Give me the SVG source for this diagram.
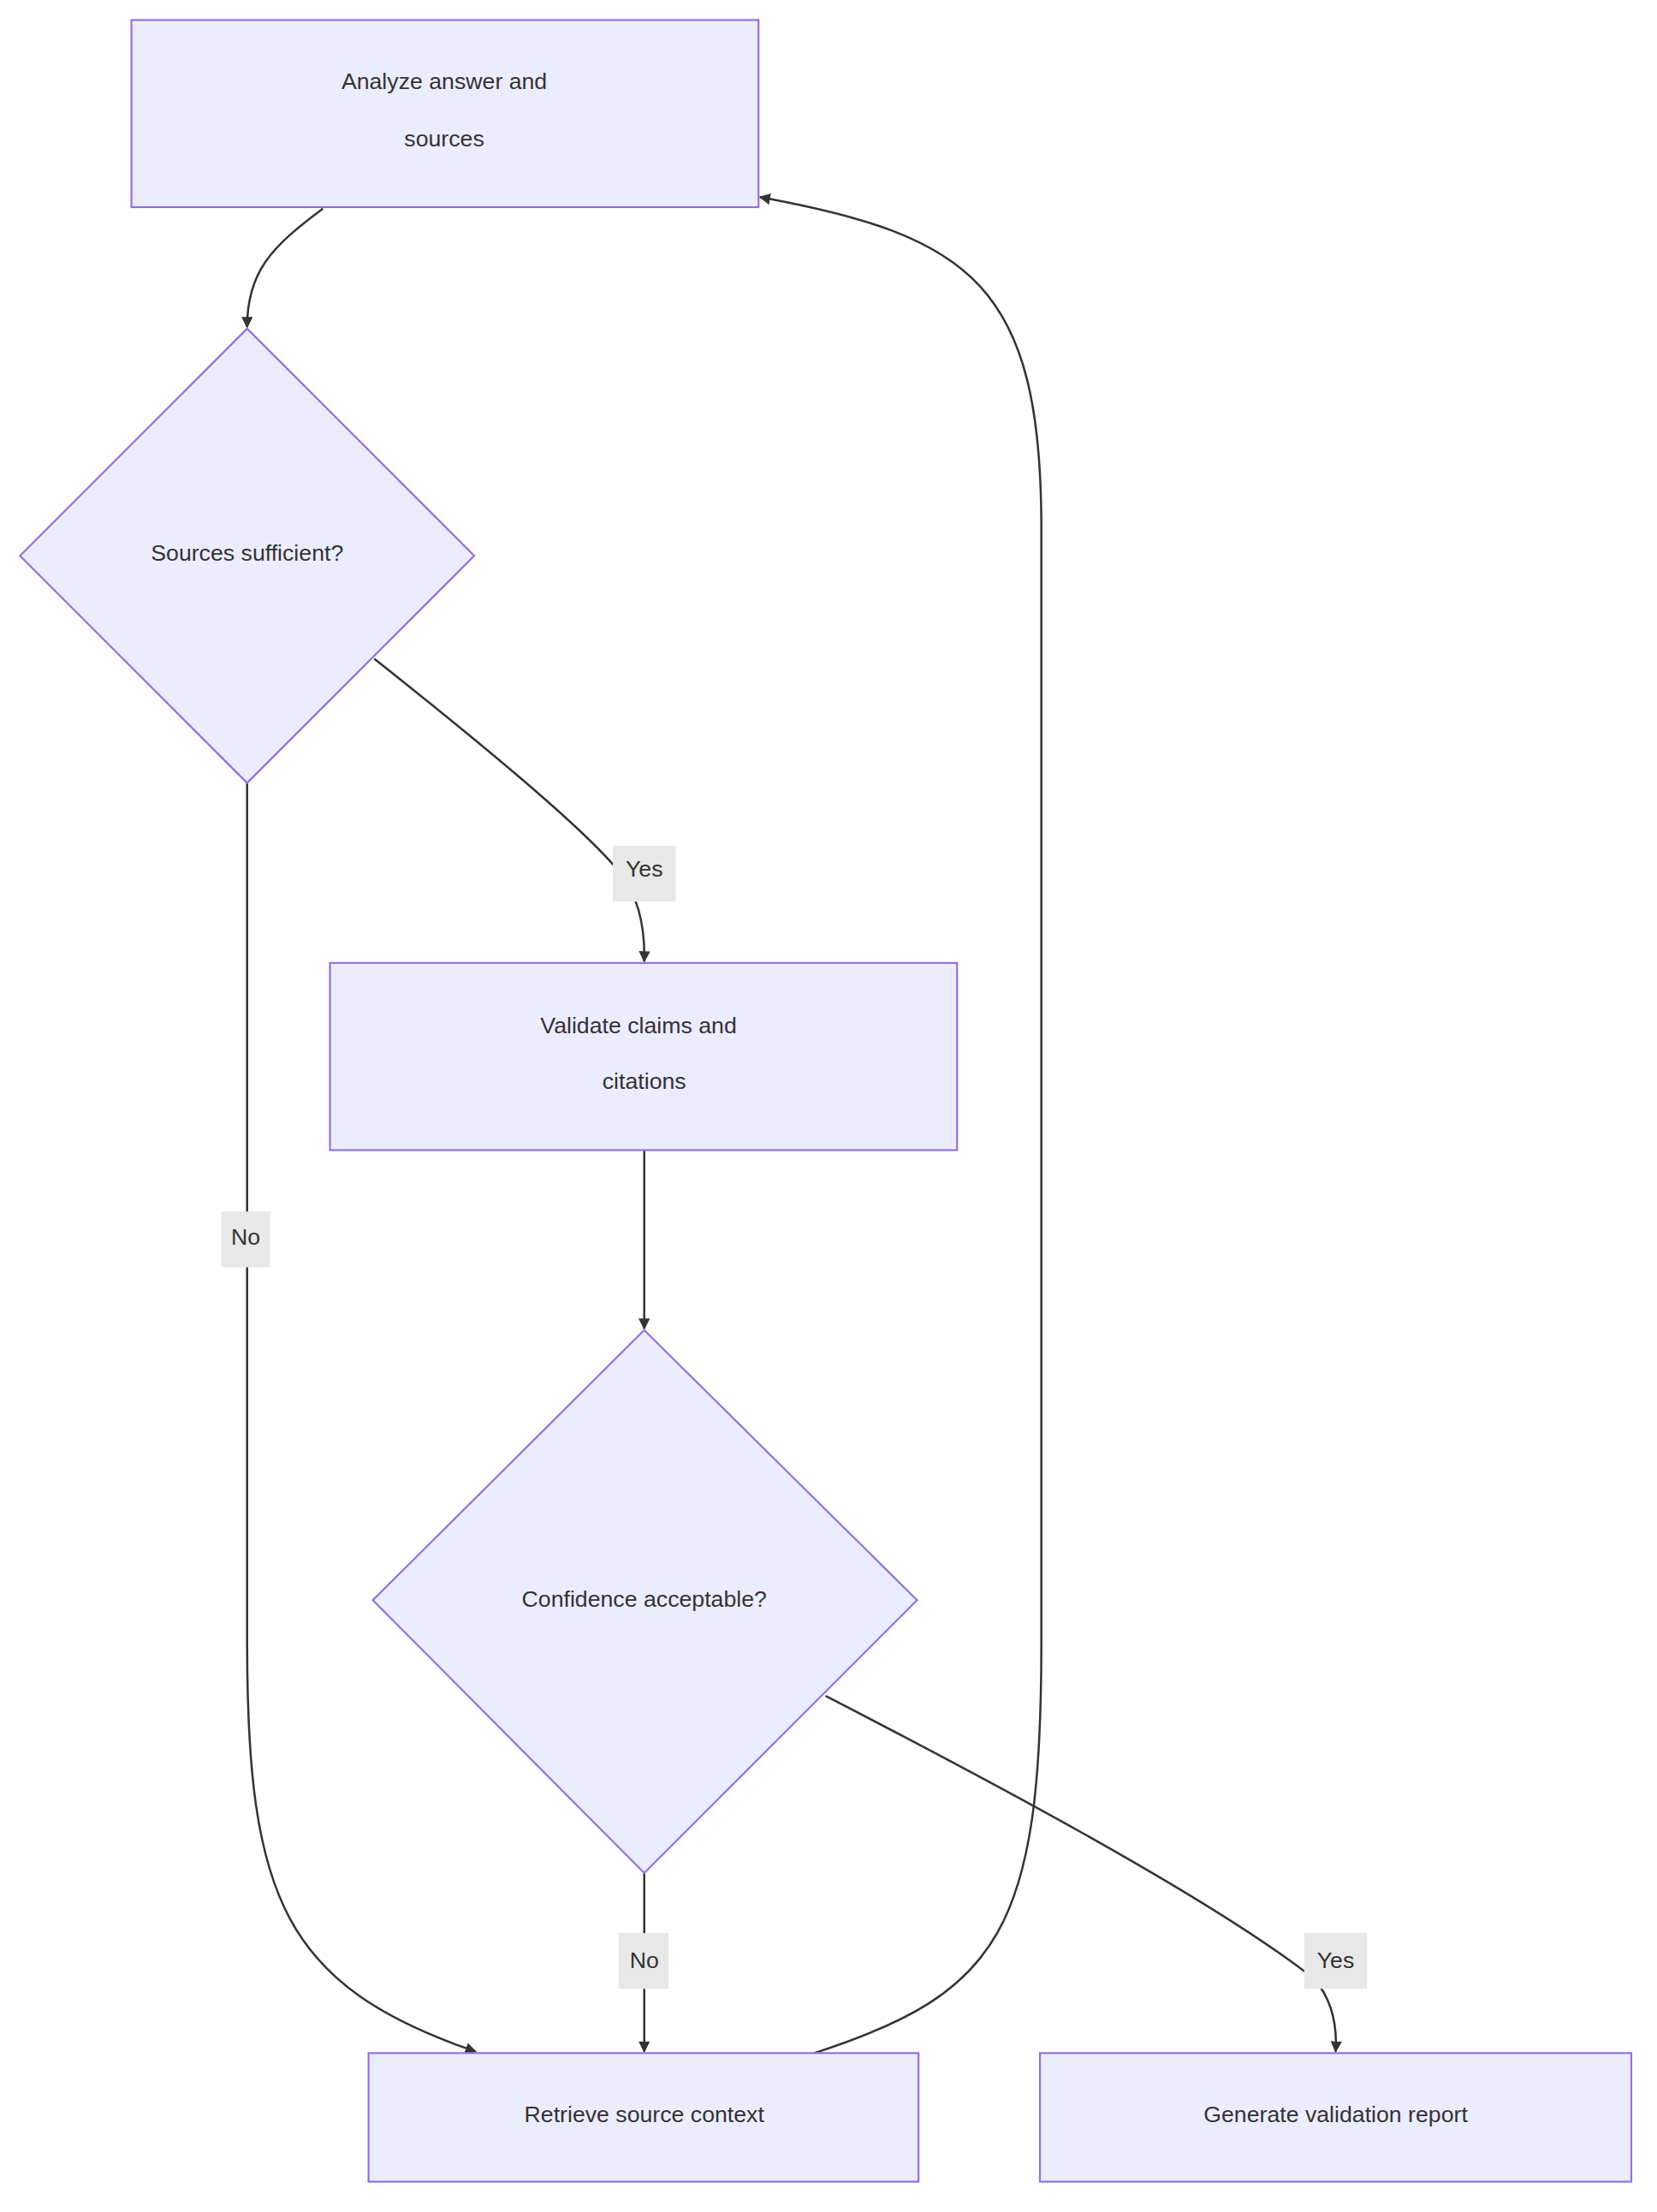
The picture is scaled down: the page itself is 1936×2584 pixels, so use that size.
<svg xmlns="http://www.w3.org/2000/svg" width="1936" height="2584" viewBox="0 0 1936 2584">
<defs>
<style>
.n{fill:#ECECFF;stroke:#9370DB;stroke-width:1.3}
.t{font-family:"Liberation Sans",Arial,sans-serif;font-size:16px;fill:#333;text-anchor:middle;dominant-baseline:central}
.e{fill:none;stroke:#333;stroke-width:1.5}
.lb{fill:#e8e8e8}
</style>
<marker id="ah" viewBox="0 0 10 10" refX="9" refY="5" markerWidth="8" markerHeight="8" orient="auto-start-reverse" markerUnits="userSpaceOnUse"><path d="M0,0L10,5L0,10z" fill="#333"/></marker>
</defs>
<rect width="1936" height="2584" fill="#fff"/>
<g transform="scale(1.669)">
<g id="connectors">
<path class="e" marker-end="url(#ah)" d="M226,146 C190,173 173,190 173,229"/>
<path class="e" marker-end="url(#ah)" d="M262,461 C330,515 410,580 435,612 Q452,635 451,673"/>
<path class="e" marker-end="url(#ah)" d="M173,548 L173,1150 C173,1330 200,1390 333,1436"/>
<path class="e" marker-end="url(#ah)" d="M451,805 L451,930"/>
<path class="e" marker-end="url(#ah)" d="M451,1311 L451,1436"/>
<path class="e" marker-end="url(#ah)" d="M578,1187 C700,1250 850,1330 920,1385 Q937,1405 935,1436"/>
<path class="e" marker-end="url(#ah)" d="M570,1437 C700,1395 729,1350 729,1150 L729,370 C729,200 680,165 532,138"/>
<rect class="lb" x="429" y="592" width="44" height="39"/><text class="t" x="451" y="608">Yes</text>
<rect class="lb" x="155" y="848" width="34" height="39"/><text class="t" x="172" y="866">No</text>
<rect class="lb" x="433" y="1353" width="35" height="39"/><text class="t" x="451" y="1372">No</text>
<rect class="lb" x="913" y="1353" width="44" height="39"/><text class="t" x="935" y="1372">Yes</text>
</g>
<g id="A"><rect class="n" x="92" y="14" width="439" height="131"/><text class="t" x="311" y="57">Analyze answer and</text><text class="t" x="311" y="97">sources</text></g>
<g id="D1"><polygon class="n" points="173,230 332,389 173,548 14,389"/><text class="t" x="173" y="387">Sources sufficient?</text></g>
<g id="B"><rect class="n" x="231" y="674" width="439" height="131"/><text class="t" x="447" y="718">Validate claims and</text><text class="t" x="451" y="757">citations</text></g>
<g id="D2"><polygon class="n" points="451,931 642,1120 451,1311 261,1120"/><text class="t" x="451" y="1119">Confidence acceptable?</text></g>
<g id="C"><rect class="n" x="258" y="1437" width="385" height="90"/><text class="t" x="451" y="1480">Retrieve source context</text></g>
<g id="D"><rect class="n" x="728" y="1437" width="414" height="90"/><text class="t" x="935" y="1480">Generate validation report</text></g>
</g>
</svg>
